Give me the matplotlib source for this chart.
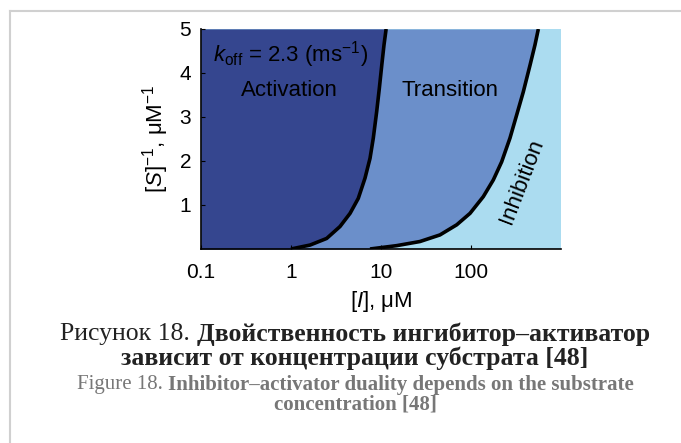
import matplotlib
matplotlib.use('Agg')
import matplotlib.pyplot as plt
from matplotlib.lines import Line2D

plt.rcParams['font.family'] = ['Liberation Sans', 'DejaVu Sans']
plt.rcParams['mathtext.fontset'] = 'custom'
plt.rcParams['mathtext.rm'] = 'Liberation Sans'
plt.rcParams['mathtext.it'] = 'Liberation Sans:italic'

# Data =========================================
# boundary activation / transition
b1_x = [1.0, 1.63, 2.49, 3.50, 4.53, 5.59, 6.64, 7.55, 8.21, 8.95, 9.58, 10.2, 10.8, 11.4]
b1_y = [0.0, 0.09, 0.24, 0.51, 0.81, 1.15, 1.61, 2.06, 2.52, 3.12, 3.65, 4.18, 4.64, 5.0]
# boundary transition / inhibition
b2_x = [7.55, 14.9, 27.1, 45.2, 69.4, 97.5, 137, 177, 219, 271, 322, 381, 453, 514, 560]
b2_y = [0.0, 0.076, 0.17, 0.32, 0.55, 0.81, 1.19, 1.57, 1.98, 2.52, 3.05, 3.57, 4.18, 4.64, 5.0]

x_ticks = [0.1, 1, 10, 100]
x_ticklabels = ['0.1', '1', '10', '100']
y_ticks = [1, 2, 3, 4, 5]

c_act = '#35468f'
c_trans = '#6b8fca'
c_inh = '#abdcf0'

# Figure =======================================
fig = plt.figure(figsize=(6.81, 4.43), dpi=100)
ax = fig.add_axes([201 / 681, 1 - 249 / 443, 360 / 681, 220 / 443])

ax.set_xscale('log')
ax.set_xlim(0.1, 1000)
ax.set_ylim(0, 5)
ax.set_facecolor(c_inh)

ax.fill_betweenx(b2_y, 0.1, b2_x, color=c_trans, lw=0)
ax.fill_betweenx(b1_y, 0.1, b1_x, color=c_act, lw=0)
ax.plot(b1_x, b1_y, color='black', lw=2.6, solid_joinstyle='round', solid_capstyle='butt')
ax.plot(b2_x, b2_y, color='black', lw=2.6, solid_joinstyle='round', solid_capstyle='butt')

for s in ['top', 'right']:
    ax.spines[s].set_visible(False)
for s in ['left', 'bottom']:
    ax.spines[s].set_linewidth(1.2)

ax.set_xticks(x_ticks)
ax.set_xticklabels(x_ticklabels)
ax.minorticks_off()
ax.set_yticks(y_ticks)
ax.tick_params(direction='in', length=3, labelsize=15)
ax.tick_params(axis='x', pad=10)
ax.tick_params(axis='y', pad=7)

ax.set_xlabel(r'[$I$], μM', fontsize=16, labelpad=5)
ax.set_ylabel(r'[$S$]$^{-1}$, μM$^{-1}$', fontsize=16, labelpad=6)

ax.text(0.135, 4.41, r'$k_{\mathrm{off}}$ = 2.3 (ms$^{-1}$)', fontsize=16, ha='left', va='center')
ax.text(0.95, 3.6, 'Activation', fontsize=16, ha='center', va='center')
ax.text(59, 3.6, 'Transition', fontsize=16, ha='center', va='center')
ax.text(366, 1.53, 'Inhibition', fontsize=16, ha='center', va='center', rotation=69)

# Frame lines of the page ======================
fig.add_artist(Line2D([10 / 681, 1], [1 - 11 / 443, 1 - 11 / 443], color='#d0d0d0', lw=1.5))
fig.add_artist(Line2D([10 / 681, 10 / 681], [0, 1 - 11 / 443], color='#d0d0d0', lw=1.5))

# Caption ======================================
serif = ['Liberation Serif', 'DejaVu Serif']
renderer = fig.canvas.get_renderer()


def two_part(y, first, second, size, color):
    t1 = fig.text(0, y, first, fontsize=size, family=serif, color=color, va='center')
    t2 = fig.text(0, y, second, fontsize=size, family=serif, color=color, va='center', weight='bold')
    w1 = t1.get_window_extent(renderer).width / fig.bbox.width
    w2 = t2.get_window_extent(renderer).width / fig.bbox.width
    x0 = 355 / 681 - (w1 + w2) / 2
    t1.set_x(x0)
    t2.set_x(x0 + w1)


two_part(1 - 334 / 443, 'Рисунок 18. ', 'Двойственность ингибитор–активатор', 18.5, '#222222')
fig.text(355 / 681, 1 - 358 / 443, 'зависит от концентрации субстрата [48]', fontsize=18.5,
         family=serif, weight='bold', color='#222222', ha='center', va='center')
two_part(1 - 385 / 443, 'Figure 18. ', 'Inhibitor–activator duality depends on the substrate', 15, '#777777')
fig.text(355 / 681, 1 - 405 / 443, 'concentration [48]', fontsize=15,
         family=serif, weight='bold', color='#777777', ha='center', va='center')

fig.savefig('out.png', dpi=100)
